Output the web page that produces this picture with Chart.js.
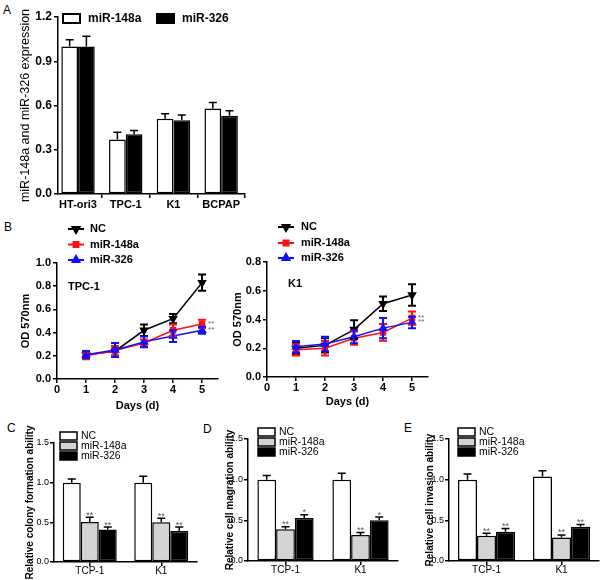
<!DOCTYPE html>
<html><head><meta charset="utf-8">
<script src="https://cdn.jsdelivr.net/npm/chart.js@4.4.1/dist/chart.umd.min.js"></script>
<style>
html,body{margin:0;padding:0;background:#fff;}
body{width:604px;height:580px;position:relative;overflow:hidden;font-family:"Liberation Sans",Arial,sans-serif;}
.lbl{position:absolute;font-size:12px;line-height:1;color:#000;}
</style></head><body>
<div class="lbl" style="left:3px;top:4px">A</div>
<div class="lbl" style="left:4px;top:221px">B</div>
<div class="lbl" style="left:7px;top:422px">C</div>
<div class="lbl" style="left:203px;top:423px">D</div>
<div class="lbl" style="left:404px;top:422px">E</div>
<script>
// ---------- Panel A data ----------
const cellLinesA = ['HT-ori3', 'TPC-1', 'K1', 'BCPAP'];
const expr148a = [1.0, 0.37, 0.51, 0.58];
const expr148aErr = [0.045, 0.048, 0.034, 0.04];
const expr326 = [1.0, 0.405, 0.50, 0.53];
const expr326Err = [0.07, 0.025, 0.036, 0.034];
const ticksA = [0, 0.3, 0.6, 0.9, 1.2];

// ---------- Panel B data ----------
const days = [1, 2, 3, 4, 5];
const dayTicks = [0, 1, 2, 3, 4, 5];
const tpcNC = [0.21, 0.24, 0.42, 0.52, 0.83];
const tpcNCErr = [0.03, 0.04, 0.05, 0.04, 0.07];
const tpc148a = [0.20, 0.245, 0.31, 0.42, 0.475];
const tpc148aErr = [0.03, 0.04, 0.03, 0.05, 0.036];
const tpc326 = [0.21, 0.25, 0.32, 0.37, 0.42];
const tpc326Err = [0.03, 0.06, 0.046, 0.05, 0.03];
const tpcSig148a = ['', '', '', '', '**'];
const tpcSig326 = ['', '', '', '', '**'];
const ticksTPC = [0, 0.2, 0.4, 0.6, 0.8, 1.0];

const k1NC = [0.20, 0.22, 0.33, 0.51, 0.57];
const k1NCErr = [0.04, 0.05, 0.064, 0.05, 0.075];
const k1148a = [0.19, 0.20, 0.27, 0.31, 0.41];
const k1148aErr = [0.04, 0.05, 0.046, 0.058, 0.046];
const k1326 = [0.21, 0.23, 0.28, 0.34, 0.38];
const k1326Err = [0.04, 0.05, 0.046, 0.07, 0.04];
const k1Sig148a = ['', '', '', '', '**'];
const k1Sig326 = ['', '', '', '', '**'];
const ticksK1 = [0, 0.2, 0.4, 0.6, 0.8];

// ---------- Panels C, D, E data ----------
const cellLinesCDE = ['TCP-1', 'K1'];
const ticksCDE = [0, 0.5, 1.0, 1.5];
const groupLabels = ['NC', 'miR-148a', 'miR-326'];

const colonyNC = [1.0, 1.0];
const colonyNCErr = [0.045, 0.08];
const colony148a = [0.505, 0.50];
const colony148aErr = [0.06, 0.05];
const colony326 = [0.41, 0.39];
const colony326Err = [0.03, 0.05];
const colonySig148a = ['**', '**'];
const colonySig326 = ['**', '**'];

const migrNC = [1.0, 1.0];
const migrNCErr = [0.05, 0.08];
const migr148a = [0.39, 0.32];
const migr148aErr = [0.03, 0.03];
const migr326 = [0.53, 0.50];
const migr326Err = [0.04, 0.04];
const migrSig148a = ['**', '**'];
const migrSig326 = ['*', '*'];

const invNC = [1.0, 1.04];
const invNCErr = [0.07, 0.07];
const inv148a = [0.31, 0.29];
const inv148aErr = [0.03, 0.03];
const inv326 = [0.36, 0.42];
const inv326Err = [0.04, 0.03];
const invSig148a = ['**', '**'];
const invSig326 = ['**', '**'];

// ---------- helpers ----------
const F = '"Liberation Sans", Arial, sans-serif';

function place(left, top, w, h) {
  const c = document.createElement('canvas');
  c.width = w; c.height = h;
  c.style.cssText = 'position:absolute;left:' + left + 'px;top:' + top + 'px;width:' + w + 'px;height:' + h + 'px';
  document.body.appendChild(c);
  return c;
}

const errorBars = {
  id: 'errorBars',
  afterDatasetsDraw(chart, args, opts) {
    const ctx = chart.ctx;
    const ys = chart.scales.y;
    const idx = chart.data.datasets.map((d, i) => i)
      .sort((a, b) => (chart.data.datasets[b].order || 0) - (chart.data.datasets[a].order || 0));
    idx.forEach(i => {
      const ds = chart.data.datasets[i];
      if (!ds.errors) return;
      const meta = chart.getDatasetMeta(i);
      meta.data.forEach((el, j) => {
        const raw = ds.data[j];
        const v = (typeof raw === 'object') ? raw.y : raw;
        const e = ds.errors[j];
        const top = ys.getPixelForValue(v + e);
        const bot = opts.both ? ys.getPixelForValue(v - e) : el.y;
        ctx.save();
        ctx.strokeStyle = opts.both ? ds.borderColor : '#000';
        ctx.lineWidth = opts.width;
        ctx.beginPath();
        ctx.moveTo(el.x, top); ctx.lineTo(el.x, bot);
        ctx.moveTo(el.x - opts.cap, top); ctx.lineTo(el.x + opts.cap, top);
        if (opts.both) { ctx.moveTo(el.x - opts.cap, bot); ctx.lineTo(el.x + opts.cap, bot); }
        ctx.stroke();
        if (ds.sig && ds.sig[j]) {
          ctx.fillStyle = opts.sigColor;
          ctx.font = opts.sigFont;
          ctx.textBaseline = 'alphabetic';
          if (opts.both) {
            ctx.textAlign = 'left';
            ctx.fillText(ds.sig[j], el.x + opts.sigDx, el.y + opts.sigDy);
          } else {
            ctx.textAlign = 'center';
            ctx.fillText(ds.sig[j], el.x, top + opts.sigDy);
          }
        }
        ctx.restore();
      });
    });
  }
};

const customLegend = {
  id: 'customLegend',
  afterDraw(chart, args, opts) {
    if (!opts.items) return;
    const ctx = chart.ctx;
    opts.items.forEach(it => {
      const ds = chart.data.datasets[it.ds];
      ctx.save();
      if (opts.kind === 'box') {
        ctx.fillStyle = ds.backgroundColor;
        ctx.fillRect(it.x, it.y - opts.boxH / 2, opts.boxW, opts.boxH);
        ctx.strokeStyle = '#000';
        ctx.lineWidth = opts.lineWidth;
        ctx.strokeRect(it.x, it.y - opts.boxH / 2, opts.boxW, opts.boxH);
      } else {
        ctx.strokeStyle = ds.borderColor;
        ctx.lineWidth = opts.lineWidth;
        ctx.beginPath();
        ctx.moveTo(it.x, it.y); ctx.lineTo(it.x + opts.lineLen, it.y);
        ctx.stroke();
        ctx.fillStyle = ds.pointBackgroundColor;
        Chart.helpers.drawPoint(ctx, {pointStyle: ds.pointStyle, rotation: ds.pointRotation || 0,
          radius: ds.pointRadius, borderWidth: 1}, it.x + opts.lineLen / 2, it.y);
      }
      ctx.fillStyle = '#000';
      ctx.font = opts.font;
      ctx.textAlign = 'left';
      ctx.textBaseline = 'middle';
      ctx.fillText(ds.label, it.tx, it.y);
      ctx.restore();
    });
  }
};

const texts = {
  id: 'texts',
  afterDraw(chart, args, opts) {
    if (!opts.items) return;
    const ctx = chart.ctx;
    opts.items.forEach(t => {
      ctx.save();
      ctx.fillStyle = '#000';
      ctx.font = t.font;
      ctx.textAlign = 'left';
      ctx.textBaseline = 'middle';
      ctx.fillText(t.text, t.x, t.y);
      ctx.restore();
    });
  }
};

const gridStyle = {drawOnChartArea: false, drawTicks: true, tickLength: 4, color: '#000', lineWidth: 1.5};
const borderStyle = {display: true, color: '#000', width: 1.5};

function yAxis(ticks, yW, title, titleFont, titlePad, tickFont, tickPad) {
  return {
    type: 'linear', min: ticks[0], max: ticks[ticks.length - 1],
    afterBuildTicks: s => { s.ticks = ticks.map(v => ({value: v})); },
    afterFit: s => { s.width = yW; },
    ticks: {color: '#000', font: tickFont, padding: tickPad, callback: v => Number(v).toFixed(1)},
    grid: gridStyle, border: borderStyle,
    title: {display: true, text: title, color: '#000', font: titleFont, padding: {top: titlePad, bottom: 0}}
  };
}

const base = {responsive: false, animation: false, devicePixelRatio: 1, events: []};
const noLegend = {legend: {display: false}, tooltip: {enabled: false}};

// ---------- Panel A ----------
new Chart(place(0, 0, 260, 220), {
  type: 'bar',
  data: {datasets: [
    {label: 'miR-148a', data: cellLinesA.map((c, i) => ({x: i + 1, y: expr148a[i]})), errors: expr148aErr,
     backgroundColor: '#ffffff', borderColor: '#000', borderWidth: 1.5, borderSkipped: false,
     categoryPercentage: 0.7, barPercentage: 1},
    {label: 'miR-326', data: cellLinesA.map((c, i) => ({x: i + 1, y: expr326[i]})), errors: expr326Err,
     backgroundColor: '#000000', borderColor: '#000', borderWidth: 1.5, borderSkipped: false,
     categoryPercentage: 0.7, barPercentage: 1}
  ]},
  options: Object.assign({}, base, {
    layout: {padding: {left: 0, top: 17, right: 15, bottom: 0}},
    scales: {
      x: {type: 'linear', min: 0.58, max: 4.5, offset: false,
          afterBuildTicks: s => { s.ticks = cellLinesA.map((c, i) => ({value: i + 1})); },
          afterFit: s => { s.height = 26; },
          ticks: {color: '#000', font: {family: F, size: 11, weight: 'bold'}, padding: 0, maxRotation: 0, autoSkip: false,
                  callback: v => cellLinesA[Math.round(v) - 1]},
          grid: gridStyle, border: borderStyle},
      y: yAxis(ticksA, 58, 'miR-148a and miR-326 expression', {family: F, size: 12.5}, 18,
               {family: F, size: 12, weight: 'bold'}, 2)
    },
    plugins: Object.assign({}, noLegend, {
      errorBars: {width: 1.5, cap: 4, both: false, sigColor: '#555', sigFont: '9px ' + F, sigDy: 0},
      customLegend: {kind: 'box', boxW: 17, boxH: 9, lineWidth: 2, font: 'bold 12px ' + F,
        items: [{ds: 0, x: 63, y: 18.5, tx: 88}, {ds: 1, x: 157, y: 18.5, tx: 182}]}
    })
  }),
  plugins: [errorBars, customLegend]
});

// ---------- Panel B ----------
function growthChart(canvas, nc, ncErr, a, aErr, aSig, b, bErr, bSig, yTicks, dims, legendItems, label) {
  const pts = arr => days.map((d, i) => ({x: d, y: arr[i]}));
  return new Chart(canvas, {
    type: 'line',
    data: {datasets: [
      {label: 'NC', data: pts(nc), errors: ncErr, borderColor: '#000', backgroundColor: '#000',
       pointBackgroundColor: '#000', pointBorderColor: '#000', pointStyle: 'triangle', pointRotation: 180,
       pointRadius: 4, borderWidth: 1.5, order: 2},
      {label: 'miR-148a', data: pts(a), errors: aErr, sig: aSig, borderColor: '#ff1010', backgroundColor: '#ff1010',
       pointBackgroundColor: '#ff1010', pointBorderColor: '#ff1010', pointStyle: 'rect',
       pointRadius: 3.5, borderWidth: 1.5, order: 1},
      {label: 'miR-326', data: pts(b), errors: bErr, sig: bSig, borderColor: '#1010ff', backgroundColor: '#1010ff',
       pointBackgroundColor: '#1010ff', pointBorderColor: '#1010ff', pointStyle: 'triangle',
       pointRadius: 4, borderWidth: 1.5, order: 0}
    ]},
    options: Object.assign({}, base, {
      layout: {padding: {left: 0, top: dims.pt, right: dims.pr, bottom: 0}},
      scales: {
        x: {type: 'linear', min: 0, max: 5.55,
            afterBuildTicks: s => { s.ticks = dayTicks.map(v => ({value: v})); },
            afterFit: s => { s.height = dims.xH; },
            ticks: {color: '#000', font: {family: F, size: 11, weight: 'bold'}, padding: 0, callback: v => String(v)},
            grid: gridStyle, border: borderStyle,
            title: {display: true, text: 'Days (d)', color: '#000', font: {family: F, size: 11, weight: 'bold'},
                    padding: {top: 0, bottom: dims.xtPad}}},
        y: yAxis(yTicks, 57, 'OD 570nm', {family: F, size: 11, weight: 'bold'}, dims.ytPad,
                 {family: F, size: 11, weight: 'bold'}, 2)
      },
      plugins: Object.assign({}, noLegend, {
        errorBars: {width: 2, cap: 4, both: true, sigColor: '#666', sigFont: '8px ' + F, sigDx: 6, sigDy: 2},
        customLegend: {kind: 'line', lineLen: 16, lineWidth: 2, font: 'bold 11px ' + F, items: legendItems},
        texts: {items: [label]}
      })
    }),
    plugins: [errorBars, customLegend, texts]
  });
}

growthChart(place(0, 215, 230, 200), tpcNC, tpcNCErr, tpc148a, tpc148aErr, tpcSig148a, tpc326, tpc326Err, tpcSig326,
  ticksTPC, {pt: 48, pr: 12, xH: 36, xtPad: 2.4, ytPad: 19.4},
  [{ds: 0, x: 68, y: 14, tx: 90}, {ds: 1, x: 68, y: 29.5, tx: 90}, {ds: 2, x: 68, y: 45, tx: 90}],
  {text: 'TPC-1', x: 68, y: 72, font: 'bold 11px ' + F});

growthChart(place(210, 215, 230, 200), k1NC, k1NCErr, k1148a, k1148aErr, k1Sig148a, k1326, k1326Err, k1Sig326,
  ticksK1, {pt: 47, pr: 12, xH: 38, xtPad: 6.4, ytPad: 21.4},
  [{ds: 0, x: 68, y: 12, tx: 91}, {ds: 1, x: 68, y: 28, tx: 91}, {ds: 2, x: 68, y: 43, tx: 91}],
  {text: 'K1', x: 78, y: 69, font: 'bold 11px ' + F});

// ---------- Panels C, D, E ----------
function groupChart(canvas, nc, ncErr, a, aErr, aSig, b, bErr, bSig, title, dims) {
  const barDs = (label, data, err, sig, color) => ({
    label, data, errors: err, sig, backgroundColor: color, borderColor: '#000', borderWidth: 1.5,
    borderSkipped: false, categoryPercentage: dims.cp, barPercentage: 1
  });
  return new Chart(canvas, {
    type: 'bar',
    data: {labels: cellLinesCDE, datasets: [
      barDs(groupLabels[0], nc, ncErr, null, '#ffffff'),
      barDs(groupLabels[1], a, aErr, aSig, '#d4d4d4'),
      barDs(groupLabels[2], b, bErr, bSig, '#000000')
    ]},
    options: Object.assign({}, base, {
      layout: {padding: {left: 0, top: dims.pt, right: dims.pr, bottom: 0}},
      scales: {
        x: {type: 'category', offset: true,
            afterFit: s => { s.height = dims.xH; },
            ticks: {color: '#000', font: {family: F, size: 10, lineHeight: 1}, padding: 0, maxRotation: 0},
            grid: Object.assign({}, gridStyle, {offset: false}), border: borderStyle},
        y: yAxis(ticksCDE, dims.yW, title, {family: F, size: 10, weight: 'bold'}, 24, {family: F, size: 9}, 1)
      },
      plugins: Object.assign({}, noLegend, {
        errorBars: {width: 1.5, cap: 4, both: false, sigColor: '#555', sigFont: '9px ' + F, sigDy: 0.5},
        customLegend: {kind: 'box', boxW: 17, boxH: 8, lineWidth: 1.5, font: '10.5px ' + F,
          items: [{ds: 0, x: dims.lx, y: dims.ly, tx: dims.lx + 21}, {ds: 1, x: dims.lx, y: dims.ly + 10, tx: dims.lx + 21},
                  {ds: 2, x: dims.lx, y: dims.ly + 20, tx: dims.lx + 21}]}
      })
    }),
    plugins: [errorBars, customLegend]
  });
}

groupChart(place(0, 415, 210, 165), colonyNC, colonyNCErr, colony148a, colony148aErr, colonySig148a,
  colony326, colony326Err, colonySig326, 'Relative colony formation ability',
  {pt: 28, pr: 13, xH: 18, yW: 54, cp: 0.755, lx: 60, ly: 21});

groupChart(place(200, 415, 210, 165), migrNC, migrNCErr, migr148a, migr148aErr, migrSig148a,
  migr326, migr326Err, migrSig326, 'Relative cell magration ability',
  {pt: 24, pr: 12, xH: 19, yW: 48, cp: 0.75, lx: 58, ly: 17});

groupChart(place(400, 415, 204, 165), invNC, invNCErr, inv148a, inv148aErr, invSig148a,
  inv326, inv326Err, invSig326, 'Relative cell invasion ability',
  {pt: 24, pr: 5, xH: 19, yW: 49, cp: 0.76, lx: 58, ly: 17});
</script>
</body></html>
